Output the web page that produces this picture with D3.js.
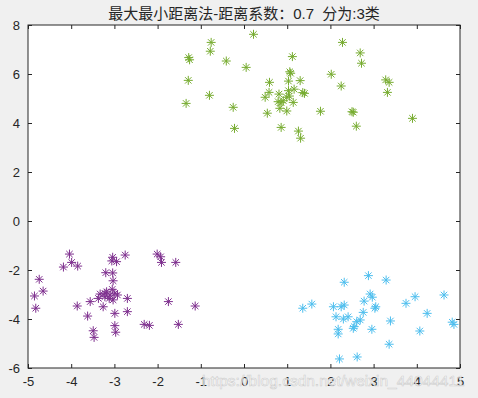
<!DOCTYPE html>
<html>
<head>
<meta charset="utf-8">
<script src="https://cdn.jsdelivr.net/npm/d3@7"></script>
<style>
  body { margin: 0; background: #f0f0f0; }
  text { font-family: "Liberation Sans", Arial, "Noto Sans CJK SC", sans-serif; }
</style>
</head>
<body>
<div id="chart"></div>
<script>
// cluster 1 (green)
var greenX = [0.22, -0.76, -0.78, -1.28, -1.26, -0.41, 0.05, 1.12, -1.29, -0.80, -1.34, -0.25, -0.22, 0.86, 0.54,
  1.08, 0.59, 1.03, 1.30, 0.58, 0.49, 0.81, 1.03, 1.16, 1.36, 1.40, 0.99, 1.05, 0.79, 0.86, 0.91, 1.14, 0.83, 0.99,
  1.26, 1.31, 2.28, 2.69, 2.72, 2.02, 2.25, 3.28, 3.36, 3.32, 1.77, 2.50, 2.53, 2.60, 3.90, 1.06];
var greenY = [7.62, 7.29, 6.93, 6.67, 6.58, 6.53, 6.27, 6.71, 5.74, 5.13, 4.80, 4.64, 3.78, 3.82, 4.40,
  6.03, 5.66, 5.71, 5.73, 5.25, 5.05, 5.18, 5.32, 5.38, 5.24, 5.21, 5.05, 5.10, 4.87, 4.83, 4.91, 4.84, 4.60, 4.49,
  3.67, 3.38, 7.29, 6.86, 6.44, 5.99, 5.51, 5.76, 5.66, 5.25, 4.48, 4.46, 4.44, 3.87, 4.19, 6.09];

// cluster 2 (purple)
var purpleX = [-4.04, -3.99, -4.18, -3.85, -4.74, -4.65, -4.85, -4.82, -3.86, -3.56, -3.62, -3.49, -3.47, -3.04, -3.06,
  -2.95, -2.75, -3.20, -3.04, -3.03, -3.33, -3.22, -3.10, -2.99, -2.93, -3.37, -3.26, -3.03, -3.12, -2.70, -2.99, -2.70,
  -2.99, -2.97, -3.05, -2.01, -1.93, -1.91, -1.58, -1.75, -1.52, -2.31, -2.19, -1.13, -3.18, -3.22];
var purpleY = [-1.35, -1.69, -1.88, -1.84, -2.38, -2.86, -3.06, -3.56, -3.47, -3.29, -3.88, -4.48, -4.75, -1.48, -1.63,
  -1.66, -1.39, -2.11, -2.12, -2.44, -2.98, -2.95, -3.02, -2.95, -3.02, -3.16, -3.50, -3.22, -3.16, -3.16, -3.77, -3.70,
  -4.27, -4.54, -2.79, -1.35, -1.46, -1.69, -1.69, -3.29, -4.22, -4.22, -4.26, -3.47, -2.89, -3.09];

// cluster 3 (blue)
var blueX = [2.88, 3.29, 2.32, 2.92, 2.97, 2.78, 3.05, 3.03, 2.76, 2.69, 2.61, 2.55, 2.53, 2.41, 2.30, 2.13, 2.07, 2.25,
  2.32, 1.36, 1.57, 2.18, 2.18, 2.96, 3.39, 3.36, 2.21, 2.62, 3.75, 3.96, 4.24, 4.07, 4.63, 4.82, 4.86];
var blueY = [-2.23, -2.41, -2.50, -2.98, -3.11, -3.27, -3.50, -3.56, -3.73, -4.04, -4.11, -4.31, -4.38, -3.91, -4.00,
  -3.91, -3.50, -3.50, -3.43, -3.56, -3.39, -4.42, -4.61, -4.42, -4.08, -5.03, -5.63, -5.55, -3.36, -3.09, -3.77, -4.49,
  -3.02, -4.13, -4.22];

var xTicks = [-5, -4, -3, -2, -1, 0, 1, 2, 3, 4, 5];
var yTicks = [-6, -4, -2, 0, 2, 4, 6, 8];
var titleText = "最大最小距离法-距离系数：0.7  分为:3类";
var watermark = "https://blog.csdn.net/weixin_44044411";

var W = 478, H = 398;
// plot box in pixels
var pLeft = 28, pRight = 460, pTop = 25, pBottom = 368;

var svg = d3.select("#chart").append("svg")
  .attr("width", W)
  .attr("height", H);

svg.append("rect")
  .attr("width", W).attr("height", H)
  .attr("fill", "#f0f0f0");

svg.append("rect")
  .attr("x", pLeft).attr("y", pTop)
  .attr("width", pRight - pLeft).attr("height", pBottom - pTop)
  .attr("fill", "#ffffff");

var x = d3.scaleLinear().domain([-5, 5]).range([pLeft, pRight]);
var y = d3.scaleLinear().domain([-6, 8]).range([pBottom, pTop]);

// MATLAB style '*' marker
var star = "M-4.5,0H4.5M0,-4.5V4.5M-3.2,-3.2L3.2,3.2M-3.2,3.2L3.2,-3.2";

function drawCluster(xs, ys, color) {
  svg.append("g")
    .selectAll("path")
    .data(xs.map(function(d, i) { return [d, ys[i]]; }))
    .enter()
    .append("path")
    .attr("d", star)
    .attr("transform", function(d) { return "translate(" + x(d[0]) + "," + y(d[1]) + ")"; })
    .attr("fill", "none")
    .attr("stroke", color)
    .attr("stroke-width", 1);
}

drawCluster(greenX, greenY, "#77AC30");
drawCluster(purpleX, purpleY, "#7E2F8E");
drawCluster(blueX, blueY, "#4DBEEE");

var fmt = function(d) { return String(d); };
var axisColor = "#262626";

function styleAxis(g) {
  g.select(".domain").remove();
  g.selectAll(".tick line").attr("stroke", axisColor);
  g.selectAll(".tick text")
    .attr("fill", axisColor)
    .style("font-size", "13px");
}

svg.append("g")
  .attr("transform", "translate(0," + pBottom + ")")
  .call(d3.axisBottom(x).tickValues(xTicks).tickFormat(fmt).tickSizeInner(-4).tickSizeOuter(0).tickPadding(9))
  .call(styleAxis);

svg.append("g")
  .attr("transform", "translate(0," + pTop + ")")
  .call(d3.axisTop(x).tickValues(xTicks).tickFormat("").tickSizeInner(-4).tickSizeOuter(0))
  .call(styleAxis);

svg.append("g")
  .attr("transform", "translate(" + pLeft + ",0)")
  .call(d3.axisLeft(y).tickValues(yTicks).tickFormat(fmt).tickSizeInner(-4).tickSizeOuter(0).tickPadding(8))
  .call(styleAxis);

svg.append("g")
  .attr("transform", "translate(" + pRight + ",0)")
  .call(d3.axisRight(y).tickValues(yTicks).tickFormat("").tickSizeInner(-4).tickSizeOuter(0))
  .call(styleAxis);

svg.append("rect")
  .attr("x", pLeft).attr("y", pTop)
  .attr("width", pRight - pLeft).attr("height", pBottom - pTop)
  .attr("fill", "none")
  .attr("stroke", axisColor)
  .attr("stroke-width", 1);

svg.append("text")
  .attr("x", (pLeft + pRight) / 2)
  .attr("y", 19)
  .attr("text-anchor", "middle")
  .attr("fill", axisColor)
  .style("font-size", "15px")
  .style("white-space", "pre")
  .text(titleText);

svg.append("text")
  .attr("x", 202)
  .attr("y", 386)
  .attr("fill", "#ffffff")
  .attr("fill-opacity", 0.8)
  .attr("stroke", "#aaaaaa")
  .attr("stroke-opacity", 0.55)
  .attr("stroke-width", 0.6)
  .style("font-size", "15.5px")
  .text(watermark);
</script>
</body>
</html>
